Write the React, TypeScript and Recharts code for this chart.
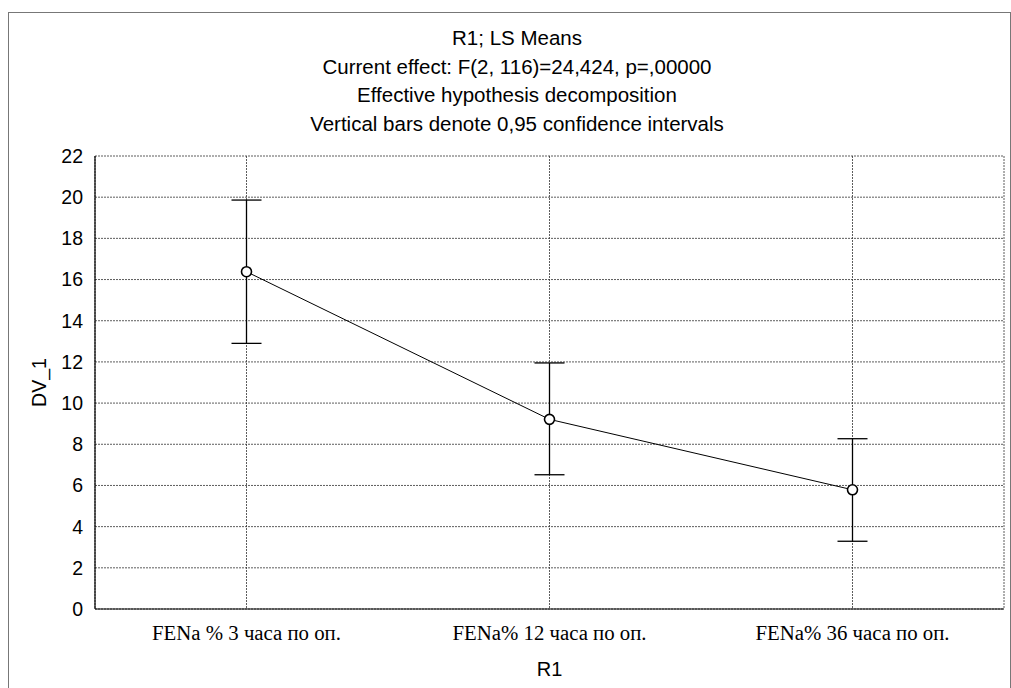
import React from 'react';
import { LineChart, Line, XAxis, YAxis, CartesianGrid, ErrorBar } from 'recharts';

const categories = ['FENa % 3 часа по оп.', 'FENa% 12 часа по оп.', 'FENa% 36 часа по оп.'];
const means = [16.38, 9.21, 5.79];
const lowerCI = [12.9, 6.52, 3.29];
const upperCI = [19.86, 11.95, 8.27];
const yTicks = [0, 2, 4, 6, 8, 10, 12, 14, 16, 18, 20, 22];
const titleLines = [
  'R1; LS Means',
  'Current effect: F(2, 116)=24,424, p=,00000',
  'Effective hypothesis decomposition',
  'Vertical bars denote 0,95 confidence intervals',
];

const data = categories.map((c, i) => ({
  cat: c,
  mean: means[i],
  err: [means[i] - lowerCI[i], upperCI[i] - means[i]],
}));

const SANS = '"Liberation Sans", Arial, sans-serif';
const SERIF = '"Liberation Serif", "Times New Roman", serif';

const Dot = (props: any) => {
  const { cx, cy } = props;
  if (cx == null || cy == null) return null;
  return <circle cx={cx} cy={cy} r={5} fill="#fff" stroke="#000" strokeWidth={1.6} />;
};

const YLabel = (props: any) => {
  const vb = props.viewBox || {};
  const cx = 39;
  const cy = (vb.y ?? 0) + (vb.height ?? 0) / 2;
  return (
    <text x={cx} y={cy} transform={`rotate(-90 ${cx} ${cy})`} textAnchor="middle" dominantBaseline="central" fill="#000" fontSize={19.5} fontFamily={SANS}>
      DV_1
    </text>
  );
};

export default function App() {
  return (
    <div style={{ position: 'absolute', left: 0, top: 0, width: 1011, height: 688, background: '#fff', overflow: 'hidden', fontFamily: SANS }}>
      <div style={{ position: 'absolute', left: 8, top: 12, width: 1001, height: 700, borderTop: '1px solid #777', borderLeft: '1px solid #777', borderRight: '1px solid #777' }} />
      {titleLines.map((t, i) => (
        <div key={i} style={{ position: 'absolute', left: 17, width: 1000, top: 26 + i * 28.5, textAlign: 'center', fontSize: 20.5, lineHeight: '24px', color: '#000', whiteSpace: 'nowrap' }}>{t}</div>
      ))}
      <LineChart width={1011} height={688} data={data} margin={{ top: 156, right: 7, bottom: 0, left: 0 }}>
        <CartesianGrid stroke="#333" strokeDasharray="2 1" strokeWidth={0.8} />
        <XAxis
          dataKey="cat"
          type="category"
          height={79}
          padding={{ left: 151.5, right: 151.5 }}
          axisLine={{ stroke: '#000', strokeWidth: 1.2 }}
          tickLine={false}
          tickMargin={10}
          tick={{ fill: '#000', fontSize: 20.8, fontFamily: SERIF }}
          label={{ value: 'R1', position: 'insideBottom', offset: 12, fill: '#000', fontSize: 20, fontFamily: SANS }}
        />
        <XAxis xAxisId="top" dataKey="cat" orientation="top" height={0} tick={false} tickLine={false} axisLine={{ stroke: '#000', strokeWidth: 1.2 }} padding={{ left: 151.5, right: 151.5 }} />
        <YAxis
          domain={[0, 22]}
          ticks={yTicks}
          width={95}
          axisLine={{ stroke: '#000', strokeWidth: 1.2 }}
          tickLine={false}
          tickMargin={6}
          interval={0}
          tick={{ fill: '#000', fontSize: 19.5, fontFamily: SANS }}
          label={<YLabel />}
        />
        <YAxis yAxisId="right" orientation="right" width={0} domain={[0, 22]} tick={false} tickLine={false} axisLine={{ stroke: '#000', strokeWidth: 1.2 }} />
        <Line
          dataKey="mean"
          stroke="#000"
          strokeWidth={1}
          dot={<Dot />}
          activeDot={false}
          isAnimationActive={false}
        >
          <ErrorBar dataKey="err" direction="y" width={15} stroke="#000" strokeWidth={1.3} isAnimationActive={false} />
        </Line>
      </LineChart>
    </div>
  );
}
